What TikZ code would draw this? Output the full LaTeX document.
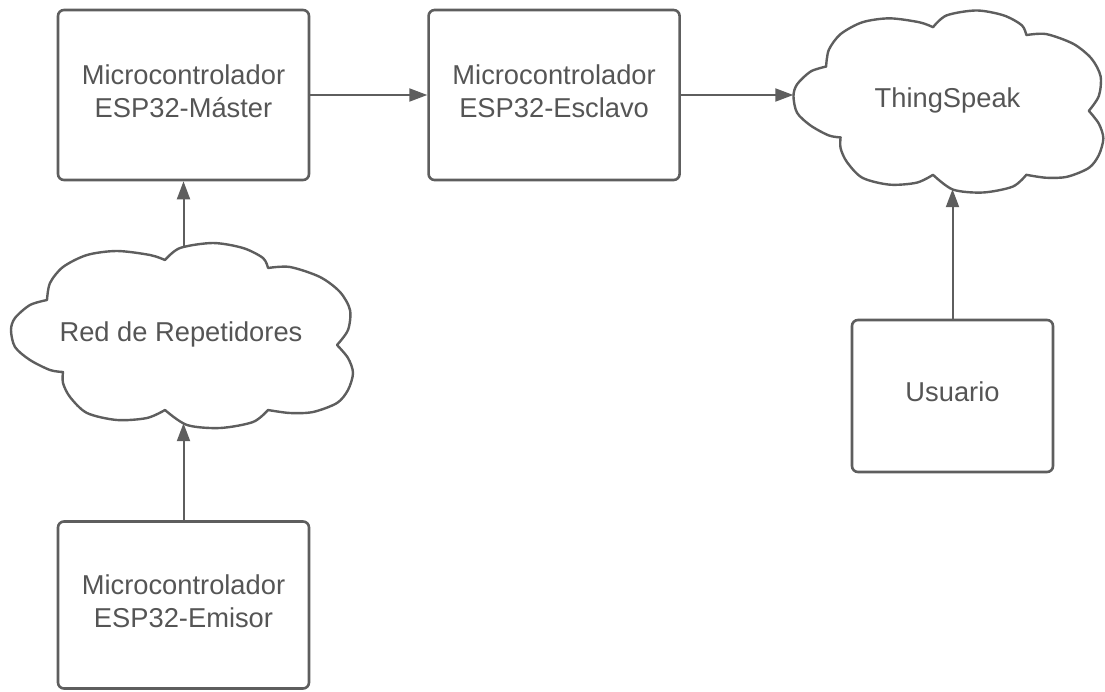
\documentclass[tikz,border=0pt]{standalone}
\usepackage{fontspec}
\setmainfont{Liberation Sans}
\usetikzlibrary{positioning,arrows.meta}
\definecolor{linegray}{HTML}{5E5E5E}
\definecolor{textgray}{HTML}{555555}
\tikzstyle{micro} = [rectangle, rounded corners=6pt, minimum width=251pt, minimum height=170pt, text centered, align=center, text depth=8pt, draw=linegray, line width=2.6pt, text=textgray, font=\fontsize{27.3}{33}\selectfont]
\tikzstyle{nubetexto} = [rectangle, text centered, text depth=7pt, text=textgray, font=\fontsize{27.3}{33}\selectfont]
\tikzstyle{nubeline} = [draw=linegray, line width=2.4pt, line join=round]
\tikzstyle{arrow} = [line width=2pt, draw=linegray, -{Triangle[length=18pt,width=13pt]}]
% outline of a cloud around node #1, scaled by #2 and #3
\newcommand{\dibujanube}[3]{%
  \draw [nubeline, shift={(#1.center)}, xscale=#2, yscale=#3]
    plot[smooth] coordinates {(-118,37) (-131,35) (-151,25) (-166,12) (-170,-5) (-166,-17) (-151,-30) (-134,-35)}
    -- plot[smooth] coordinates {(-134,-35) (-131,-52) (-118,-68) (-94,-80) (-64,-84) (-31,-80) (-16,-75)}
    -- plot[smooth] coordinates {(-16,-75) (-1,-87) (32,-92) (62,-87) (82,-77) (87,-67)}
    -- plot[smooth] coordinates {(87,-67) (109,-68) (139,-58) (159,-43) (169,-25) (167,-5) (156,10)}
    -- plot[smooth] coordinates {(156,10) (167,23) (172,38) (167,55) (156,68) (132,77) (109,78) (87,75)}
    -- plot[smooth] coordinates {(87,75) (72,87) (39,93) (6,90) (-16,75)}
    -- plot[smooth] coordinates {(-16,75) (-34,83) (-64,85) (-94,78) (-111,62) (-118,48) (-118,37)}
    -- cycle;}

\begin{document}
\begin{tikzpicture}[x=1pt, y=-1pt]
    \useasboundingbox (0,0) rectangle (1105,691);
    \node (master) [micro] at (183.5,95) {Microcontrolador\\ESP32-Máster};
    \node (esclavo) [micro, right=117pt of master] {Microcontrolador\\ESP32-Esclavo};
    \draw [arrow] (master.east) -- (esclavo.west);
    \node (thing) [nubetexto, minimum width=308pt, minimum height=176pt] at (947.5,101) {ThingSpeak};
    \dibujanube{thing}{0.906}{0.984}
    \draw [arrow] (esclavo.east) -- (esclavo.east -| thing.west);
    \node (red) [nubetexto, minimum width=340pt, minimum height=176pt] at (181,335) {Red de Repetidores};
    \dibujanube{red}{1}{1}
    \draw [arrow] (master.south |- red.north) -- (master.south);
    \node (emisor) [micro, minimum height=167pt] at (183.5,605) {Microcontrolador\\ESP32-Emisor};
    \draw [arrow] (emisor.north) -- (emisor.north |- red.south);
    \node (usuario) [micro, minimum width=201pt, minimum height=152pt] at (952.5,396) {Usuario};
    \draw [arrow] (usuario.north) -- (usuario.north |- thing.south);
\end{tikzpicture}
\end{document}
